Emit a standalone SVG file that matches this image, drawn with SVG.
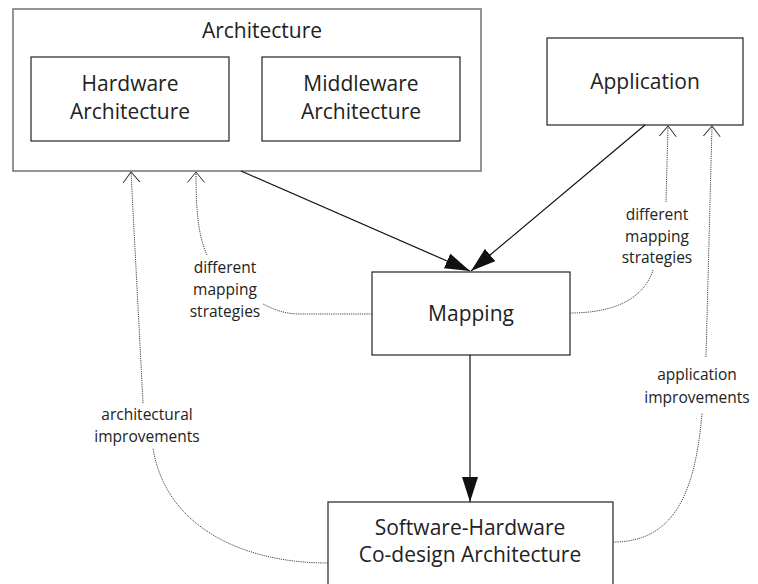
<svg xmlns="http://www.w3.org/2000/svg" width="758" height="584" viewBox="0 0 758 584">
<defs>
<style>
.box{fill:#fff;stroke:#222;stroke-width:1.2}
.outer{fill:#fff;stroke:#7a7a7a;stroke-width:1.6}
.t{font-family:"Open Sans","Liberation Sans",sans-serif;font-size:21px;fill:#222;text-anchor:middle}
.l{font-family:"Open Sans","Liberation Sans",sans-serif;font-size:15.5px;fill:#222;text-anchor:middle}
.solid{fill:none;stroke:#111;stroke-width:1.2}
.dot{fill:none;stroke:#444;stroke-width:1;stroke-dasharray:1.2 1}
</style>
<marker id="fill" markerUnits="userSpaceOnUse" markerWidth="26" markerHeight="16" refX="25" refY="8" orient="auto">
<path d="M0,0 L25,8 L0,16 z" fill="#111"/>
</marker>
<marker id="open" markerUnits="userSpaceOnUse" markerWidth="12" markerHeight="20" refX="10.5" refY="9" orient="auto">
<path d="M0,0.5 L10.5,9 L0,17.5" fill="none" stroke="#333" stroke-width="1"/>
</marker>
</defs>
<rect width="758" height="584" fill="#fff"/>

<g id="architecture">
<rect class="outer" x="13" y="9" width="468" height="162"/>
<text class="t" x="262" y="38">Architecture</text>
</g>
<g id="hardware">
<rect class="box" x="31" y="57" width="198" height="84"/>
<text class="t" x="130" y="91">Hardware</text>
<text class="t" x="130" y="119">Architecture</text>
</g>
<g id="middleware">
<rect class="box" x="262" y="57" width="198" height="84"/>
<text class="t" x="361" y="91">Middleware</text>
<text class="t" x="361" y="119">Architecture</text>
</g>
<g id="application">
<rect class="box" x="547" y="38" width="196" height="87"/>
<text class="t" x="645" y="89">Application</text>
</g>
<g id="mapping">
<rect class="box" x="372" y="272" width="198" height="83"/>
<text class="t" x="471" y="321">Mapping</text>
</g>
<g id="codesign">
<rect class="box" x="328" y="502" width="285" height="90"/>
<text class="t" x="470" y="535">Software-Hardware</text>
<text class="t" x="470" y="562">Co-design Architecture</text>
</g>

<g id="connectors">
<line class="solid" x1="241" y1="171" x2="470" y2="271" marker-end="url(#fill)"/>
<line class="solid" x1="645" y1="125" x2="471" y2="271" marker-end="url(#fill)"/>
<line class="solid" x1="470" y1="355" x2="470" y2="502" marker-end="url(#fill)"/>

<path class="dot" d="M328,563 C240,563 165,525 153,448"/>
<path class="dot" d="M143,403 L131,172" marker-end="url(#open)"/>

<path class="dot" d="M372,314 L300,314 C285,314 275,310 263,304"/>
<path class="dot" d="M207,255 C198,235 196,210 196,172" marker-end="url(#open)"/>

<path class="dot" d="M570,313 C620,313 645,295 653,270"/>
<path class="dot" d="M666,202 L668,126" marker-end="url(#open)"/>

<path class="dot" d="M613,542 C670,542 695,500 702,413"/>
<path class="dot" d="M706,357 L712,126" marker-end="url(#open)"/>
</g>

<g id="labels">
<text class="l" x="147" y="420">architectural</text>
<text class="l" x="147" y="442">improvements</text>
<text class="l" x="225" y="273">different</text>
<text class="l" x="225" y="295">mapping</text>
<text class="l" x="225" y="317">strategies</text>
<text class="l" x="657" y="220">different</text>
<text class="l" x="657" y="242">mapping</text>
<text class="l" x="657" y="263">strategies</text>
<text class="l" x="697" y="380">application</text>
<text class="l" x="697" y="403">improvements</text>
</g>
</svg>
